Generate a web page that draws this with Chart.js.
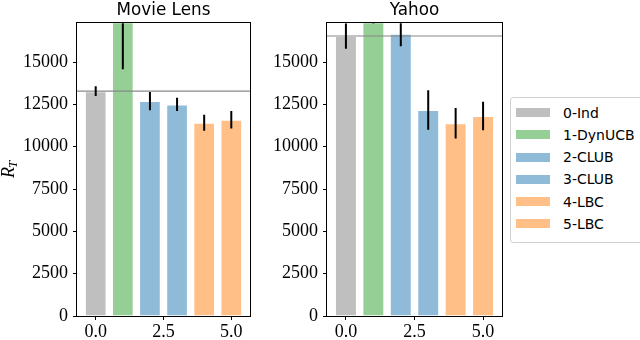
<!DOCTYPE html>
<html>
<head>
<meta charset="utf-8">
<script src="https://cdn.jsdelivr.net/npm/chart.js@4.4.1/dist/chart.umd.min.js"></script>
<style>
  html, body { margin: 0; padding: 0; background: #fff; }
  #wrap { position: relative; width: 640px; height: 340px; overflow: hidden; }
  #wrap canvas { position: absolute; top: 0; }
  #legend {
    position: absolute; left: 510px; top: 97px; width: 140px; height: 146px;
    box-sizing: border-box; border: 1px solid #d0d0d0; border-radius: 3px;
    font: 14px "DejaVu Sans", sans-serif; color: #000;
  }
  #legend .item { position: absolute; left: 5px; height: 22px; display: flex; align-items: center; white-space: nowrap; }
  #legend .patch { width: 34px; height: 9px; margin-right: 13px; }
</style>
</head>
<body>
<div id="wrap">
  <canvas id="movieLens" width="255" height="340" style="left:0"></canvas>
  <canvas id="yahoo" width="255" height="340" style="left:255px"></canvas>
  <div id="legend"></div>
</div>
<script>
const categories = ['0-Ind', '1-DynUCB', '2-CLUB', '3-CLUB', '4-LBC', '5-LBC'];
const barPositions = [0, 1, 2, 3, 4, 5];
const barColors = ['#bfbfbf', '#96cf96', '#8fbbd9', '#8fbbd9', '#ffbf86', '#ffbf86'];

const movieLensMeans = [13280, 18500, 12700, 12500, 11420, 11590];
const movieLensErrors = [290, 3930, 540, 390, 470, 515];

const yahooMeans = [16540, 18000, 16670, 12170, 11390, 11810];
const yahooErrors = [750, 720, 730, 1170, 900, 840];

const yTickValues = [0, 2500, 5000, 7500, 10000, 12500, 15000];
const xTickValues = [0, 2.5, 5];

Chart.defaults.font.family = '"Liberation Serif", serif';
Chart.defaults.font.size = 18;
Chart.defaults.color = '#000';

// reference line, error bars and the box around the axes
const errorBars = {
  id: 'errorBars',
  afterDatasetsDraw(chart, args, opts) {
    const { ctx, chartArea } = chart;
    const y = chart.scales.y;
    ctx.save();
    ctx.beginPath();
    ctx.rect(chartArea.left, chartArea.top, chartArea.width, chartArea.height);
    ctx.clip();

    const ry = y.getPixelForValue(opts.reference);
    ctx.strokeStyle = '#888';
    ctx.lineWidth = 1.2;
    ctx.beginPath();
    ctx.moveTo(chartArea.left, ry);
    ctx.lineTo(chartArea.right, ry);
    ctx.stroke();

    const meta = chart.getDatasetMeta(0);
    ctx.strokeStyle = '#000';
    ctx.lineWidth = 2;
    meta.data.forEach((bar, i) => {
      const v = chart.data.datasets[0].data[i].y;
      const e = opts.errors[i];
      ctx.beginPath();
      ctx.moveTo(bar.x, y.getPixelForValue(v - e));
      ctx.lineTo(bar.x, y.getPixelForValue(v + e));
      ctx.stroke();
    });
    ctx.restore();

    ctx.save();
    ctx.strokeStyle = '#000';
    ctx.lineWidth = 1;
    ctx.strokeRect(Math.round(chartArea.left) - 0.5, Math.round(chartArea.top) - 0.5,
      Math.round(chartArea.width) + 1, Math.round(chartArea.height) + 1);
    ctx.restore();

    if (opts.yLabel) {
      ctx.save();
      ctx.translate(opts.yLabel.x, opts.yLabel.y);
      ctx.rotate(-Math.PI / 2);
      ctx.fillStyle = '#000';
      ctx.textBaseline = 'alphabetic';
      ctx.font = 'italic 18px "Liberation Serif", serif';
      const rw = ctx.measureText('R').width;
      ctx.font = 'italic 13px "Liberation Serif", serif';
      const tw = ctx.measureText('T').width;
      const x0 = -(rw + tw) / 2;
      ctx.font = 'italic 18px "Liberation Serif", serif';
      ctx.fillText('R', x0, 5);
      ctx.font = 'italic 13px "Liberation Serif", serif';
      ctx.fillText('T', x0 + rw - 1, 8);
      ctx.restore();
    }
  }
};

function makePanel(id, title, means, errors, yWidth, padRight, yLabel) {
  const ctx = document.getElementById(id).getContext('2d');
  return new Chart(ctx, {
    type: 'bar',
    data: {
      labels: categories,
      datasets: [{
        data: barPositions.map((x, i) => ({ x: x, y: means[i] })),
        backgroundColor: barColors,
        borderColor: 'rgba(255,255,255,0.35)',
        borderWidth: 1,
        categoryPercentage: 1,
        barPercentage: 0.8
      }]
    },
    options: {
      responsive: false,
      animation: false,
      devicePixelRatio: 1,
      layout: { padding: { left: 0, right: padRight, top: 0, bottom: 0 } },
      scales: {
        x: {
          type: 'linear',
          min: -0.69,
          max: 5.69,
          offset: false,
          afterBuildTicks: s => { s.ticks = xTickValues.map(v => ({ value: v })); },
          afterFit: s => { s.height = 24; },
          ticks: { callback: v => v.toFixed(1), padding: 1, maxRotation: 0, autoSkip: false },
          grid: { offset: false, drawOnChartArea: false, drawTicks: true, tickLength: 4, color: '#000', tickColor: '#000' },
          border: { display: false }
        },
        y: {
          min: 0,
          max: 17300,
          afterBuildTicks: s => { s.ticks = yTickValues.map(v => ({ value: v })); },
          afterFit: s => { s.width = yWidth; },
          ticks: { callback: v => String(v), padding: 5 },
          grid: { drawOnChartArea: false, drawTicks: true, tickLength: 4, color: '#000', tickColor: '#000' },
          border: { display: false }
        }
      },
      plugins: {
        legend: { display: false },
        tooltip: { enabled: false },
        title: {
          display: true,
          text: title,
          fullSize: false,
          color: '#000',
          font: { family: '"DejaVu Sans", sans-serif', size: 16.8, weight: 'normal' },
          padding: { top: 1, bottom: 2 }
        },
        errorBars: { errors: errors, reference: means[0], yLabel: yLabel }
      }
    },
    plugins: [errorBars]
  });
}

makePanel('movieLens', 'Movie Lens', movieLensMeans, movieLensErrors, 77, 5, { x: 9, y: 169 });
makePanel('yahoo', 'Yahoo', yahooMeans, yahooErrors, 72, 8, null);

// legend built from the same arrays
const legend = document.getElementById('legend');
categories.forEach((name, i) => {
  const item = document.createElement('div');
  item.className = 'item';
  item.style.top = (3.7 + i * 22.2) + 'px';
  const patch = document.createElement('span');
  patch.className = 'patch';
  patch.style.background = barColors[i];
  const label = document.createElement('span');
  label.textContent = name;
  item.appendChild(patch);
  item.appendChild(label);
  legend.appendChild(item);
});
</script>
</body>
</html>
